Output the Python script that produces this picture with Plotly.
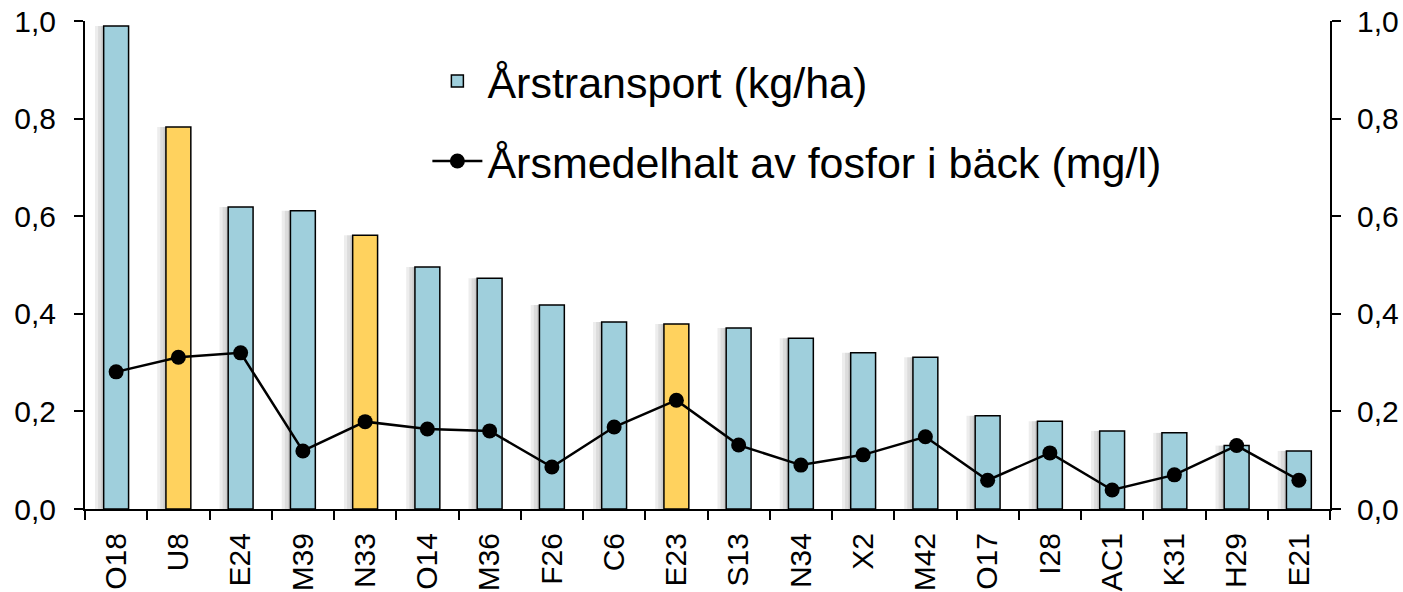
import plotly.graph_objects as go

categories = ["O18", "U8", "E24", "M39", "N33", "O14", "M36", "F26", "C6", "E23",
              "S13", "N34", "X2", "M42", "O17", "I28", "AC1", "K31", "H29", "E21"]
transport = [0.99, 0.783, 0.619, 0.611, 0.561, 0.496, 0.473, 0.418, 0.383, 0.379,
             0.371, 0.350, 0.320, 0.311, 0.191, 0.180, 0.160, 0.156, 0.130, 0.119]
fosfor = [0.281, 0.311, 0.320, 0.119, 0.179, 0.164, 0.160, 0.086, 0.168, 0.223,
          0.131, 0.090, 0.111, 0.148, 0.059, 0.115, 0.039, 0.070, 0.130, 0.059]
highlight = ["U8", "N33", "E23"]

BLUE = "#9FCFDC"
YELLOW = "#FFD25E"
bar_colors = [YELLOW if c in highlight else BLUE for c in categories]

FONT = "Liberation Sans, Arial, sans-serif"
BAR_W = 0.4

fig = go.Figure()

# soft shadow to the left of each bar (layered translucent bars)
for sw in (0.05, 0.10, 0.15):
    fig.add_trace(go.Bar(
        x=categories, y=transport, width=sw, offset=-BAR_W / 2 - sw + 0.01,
        marker=dict(color="rgba(0,0,0,0.07)", line=dict(width=0)),
        showlegend=False, hoverinfo="skip",
    ))

fig.add_trace(go.Bar(
    x=categories, y=transport, name="Årstransport (kg/ha)",
    marker=dict(color=bar_colors, line=dict(color="black", width=1.5)),
    width=BAR_W, offset=-BAR_W / 2, legend="legend",
))
fig.add_trace(go.Scatter(
    x=categories, y=fosfor, name="Årsmedelhalt av fosfor i bäck (mg/l)",
    mode="lines+markers", yaxis="y2",
    line=dict(color="black", width=2.5),
    marker=dict(color="black", size=15),
    legend="legend2",
))

axis_common = dict(
    range=[0, 1.0], dtick=0.2, tick0=0, tickformat=".1f",
    ticks="outside", ticklen=9, tickwidth=2, tickcolor="black",
    showline=True, linecolor="black", linewidth=2,
    showgrid=False, zeroline=False, automargin=False,
    ticklabeloverflow="allow",
    tickfont=dict(family=FONT, size=30, color="black"),
)

fig.update_layout(
    width=1403, height=592,
    margin=dict(l=85, r=73, t=21, b=83),
    paper_bgcolor="white", plot_bgcolor="white",
    separators=", ",
    barmode="overlay",
    font=dict(family=FONT, color="black"),
    xaxis=dict(
        type="category", range=[-0.5, len(categories) - 0.5],
        tickangle=-90, tickson="boundaries",
        ticks="outside", ticklen=9, tickwidth=2, tickcolor="black",
        showline=True, linecolor="black", linewidth=2,
        showgrid=False, zeroline=False, automargin=False,
        ticklabelstandoff=10,
        tickfont=dict(family=FONT, size=30, color="black"),
    ),
    yaxis=dict(**axis_common, side="left", ticklabelstandoff=12),
    yaxis2=dict(**axis_common, side="right", overlaying="y", ticklabelstandoff=10),
    legend=dict(
        x=0.275, y=0.877, xanchor="left", yanchor="middle",
        font=dict(family=FONT, size=43, color="black"),
        bgcolor="rgba(0,0,0,0)", itemwidth=50,
    ),
    legend2=dict(
        x=0.275, y=0.713, xanchor="left", yanchor="middle",
        font=dict(family=FONT, size=43, color="black"),
        bgcolor="rgba(0,0,0,0)", itemwidth=50,
    ),
    showlegend=True,
)

fig.write_html(
    "out.html",
    config={"displayModeBar": False},
    post_script="document.body.style.margin='0';document.body.style.overflow='hidden';",
)
